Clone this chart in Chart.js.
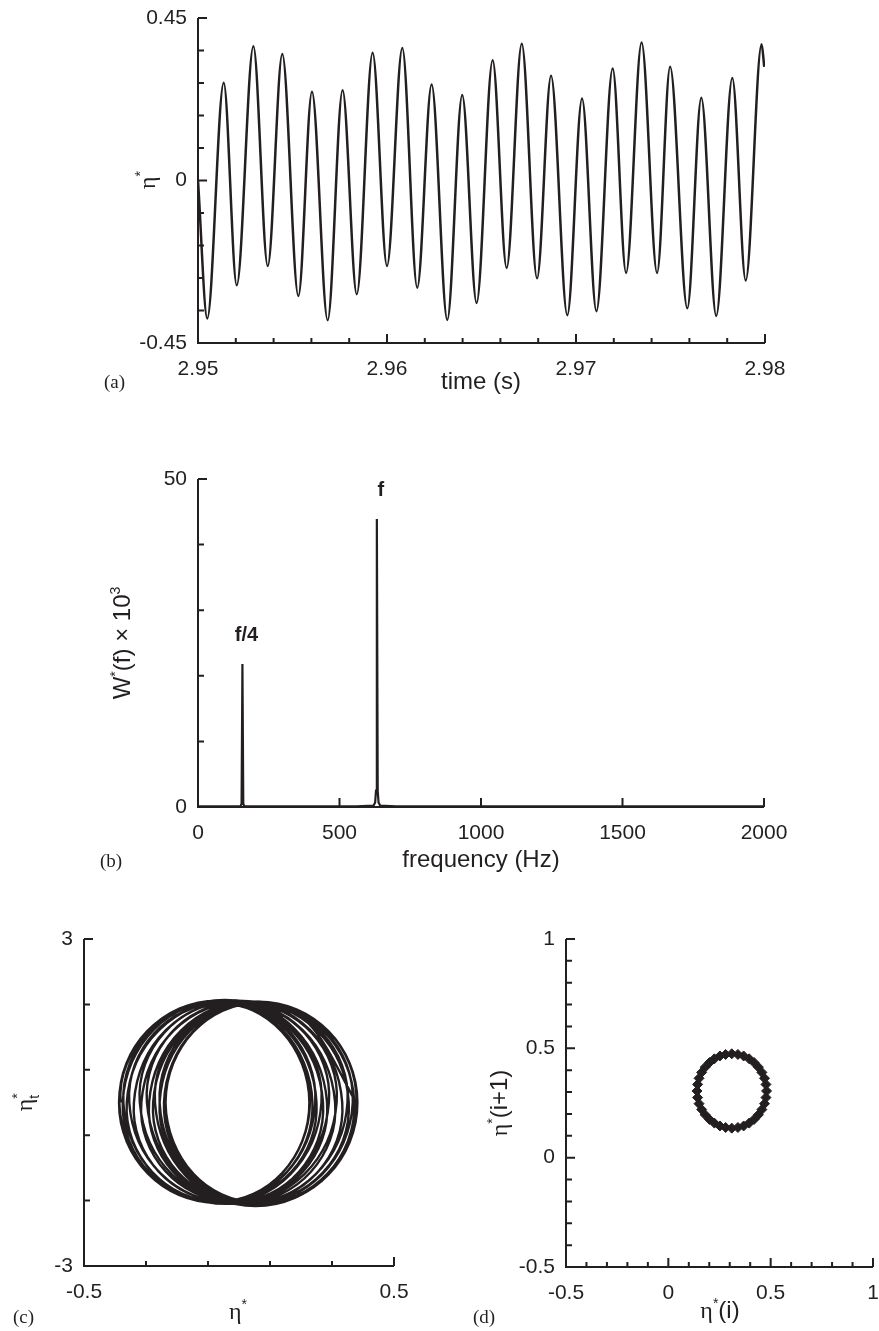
<!DOCTYPE html>
<html>
<head>
<meta charset="utf-8">
<title>Surface elevation, spectrum, phase portrait and return map</title>
<script src="https://cdn.jsdelivr.net/npm/chart.js@4.4.1/dist/chart.umd.min.js"></script>
<style>
  html, body { margin: 0; padding: 0; background: #fff; }
  #wrap { position: relative; width: 879px; height: 1331px; }
  #wrap canvas { position: absolute; left: 0; top: 0; }
</style>
</head>
<body>
<div id="wrap">
  <canvas id="chartA" width="879" height="1331"></canvas>
  <canvas id="chartB" width="879" height="1331"></canvas>
  <canvas id="chartC" width="879" height="1331"></canvas>
  <canvas id="chartD" width="879" height="1331"></canvas>
</div>
<script>
// (a) elevation signal: start, then alternating troughs and crests
const timeS = [2.95000, 2.95049, 2.95136, 2.95205, 2.95293, 2.95369, 2.95446, 2.95531, 2.95603, 2.95686,
               2.95765, 2.95840, 2.95924, 2.96000, 2.96081, 2.96160, 2.96236, 2.96319, 2.96398, 2.96474,
               2.96559, 2.96633, 2.96713, 2.96794, 2.96868, 2.96954, 2.97032, 2.97108, 2.97194, 2.97265,
               2.97347, 2.97429, 2.97498, 2.97589, 2.97663, 2.97742, 2.97827, 2.97898, 2.97982, 2.97996];
const eta = [0.000, -0.382, 0.271, -0.290, 0.372, -0.237, 0.350, -0.320, 0.246, -0.387,
             0.250, -0.315, 0.354, -0.237, 0.367, -0.297, 0.266, -0.386, 0.237, -0.339,
             0.333, -0.242, 0.379, -0.271, 0.290, -0.373, 0.227, -0.362, 0.310, -0.256,
             0.382, -0.256, 0.315, -0.354, 0.229, -0.375, 0.284, -0.277, 0.377, 0.315];

// (b) power spectrum, W*(f) x 10^3
const specFreq  = [0, 60, 120, 150, 154, 157, 160, 164, 250, 400, 560, 620, 626, 629, 632, 635, 638, 644, 700, 900, 1300, 1700, 2000];
const specPower = [0.1, 0.1, 0.1, 0.1, 0.5, 21.8, 0.5, 0.1, 0.1, 0.1, 0.1, 0.2, 0.7, 2.5, 43.9, 2.5, 0.7, 0.2, 0.1, 0.1, 0.1, 0.1, 0.1];
const peakFreqs = [157, 632];
const peakNames = ['f/4', 'f'];

// (c) phase trajectory (eta*, eta*_t): trough -> upper crossing -> crest -> lower crossing
const phaseEta = [0.000,
  -0.382, -0.056, 0.271, -0.010,
  -0.290, 0.041, 0.372, 0.068,
  -0.237, 0.057, 0.350, 0.015,
  -0.320, -0.037, 0.246, -0.071,
  -0.387, -0.069, 0.250, -0.033,
  -0.315, 0.020, 0.354, 0.059,
  -0.237, 0.065, 0.367, 0.035,
  -0.297, -0.016, 0.266, -0.060,
  -0.386, -0.075, 0.237, -0.051,
  -0.339, -0.003, 0.333, 0.046,
  -0.242, 0.069, 0.379, 0.054,
  -0.271, 0.010, 0.290, -0.042,
  -0.373, -0.073, 0.227, -0.068,
  -0.362, -0.026, 0.310, 0.027,
  -0.256, 0.063, 0.382, 0.063,
  -0.256, 0.030, 0.315, -0.020,
  -0.354, -0.063, 0.229, -0.073,
  -0.375, -0.046, 0.284, 0.004,
  -0.277, 0.050, 0.377,
  0.315];
const phaseRate = [-1.85,
  0, 1.86, 0, -1.82,
  0, 1.85, 0, -1.86,
  0, 1.82, 0, -1.85,
  0, 1.83, 0, -1.84,
  0, 1.87, 0, -1.80,
  0, 1.85, 0, -1.83,
  0, 1.83, 0, -1.87,
  0, 1.82, 0, -1.85,
  0, 1.86, 0, -1.81,
  0, 1.87, 0, -1.83,
  0, 1.84, 0, -1.90,
  0, 1.81, 0, -1.86,
  0, 1.84, 0, -1.82,
  0, 1.86, 0, -1.82,
  0, 1.85, 0, -1.88,
  0, 1.81, 0, -1.84,
  0, 1.82, 0, -1.83,
  0, 1.88, 0, -1.81,
  0, 1.85, 0,
  -0.95];

// (d) return map eta*(i) -> eta*(i+1)
const mapEtaI  = [0.480, 0.477, 0.470, 0.457, 0.440, 0.419, 0.395, 0.368, 0.340, 0.310, 0.280, 0.252,
                  0.225, 0.201, 0.180, 0.163, 0.150, 0.143, 0.140, 0.143, 0.150, 0.163, 0.180, 0.201,
                  0.225, 0.252, 0.280, 0.310, 0.340, 0.368, 0.395, 0.419, 0.440, 0.457, 0.470, 0.477];
const mapEtaI1 = [0.305, 0.335, 0.363, 0.390, 0.414, 0.435, 0.452, 0.465, 0.472, 0.475, 0.472, 0.465,
                  0.452, 0.435, 0.414, 0.390, 0.363, 0.335, 0.305, 0.275, 0.247, 0.220, 0.196, 0.175,
                  0.158, 0.145, 0.138, 0.135, 0.138, 0.145, 0.158, 0.175, 0.196, 0.220, 0.247, 0.275];

// labelled ticks
const timeTicks = [2.95, 2.96, 2.97, 2.98];
const etaTicks = [-0.45, 0, 0.45];
const freqTicks = [0, 500, 1000, 1500, 2000];
const powerTicks = [0, 50];
const phaseEtaTicks = [-0.5, 0.5];
const phaseRateTicks = [-3, 3];
const mapTicks = [-0.5, 0, 0.5, 1];

const INK = '#231f20';
const SANS = '"Liberation Sans", Arial, Helvetica, sans-serif';
const SERIF = '"Liberation Serif", "Times New Roman", serif';
const W = 879, H = 1331;
const TITLE = 24;

Chart.defaults.font.family = SANS;
Chart.defaults.color = INK;

// text with super/subscripts; parts are [text, mode, serif]
function drawRich(ctx, t) {
  const size = t.size || TITLE;
  const small = Math.round(size * 0.6);
  const fontFor = p => (t.bold ? 'bold ' : '') + (p[1] === 'n' ? size : small) + 'px ' + (p[2] ? SERIF : SANS);
  let width = 0;
  t.parts.forEach(p => {
    ctx.font = fontFor(p);
    if (p[1] !== 'supx') width += ctx.measureText(p[0]).width;
  });
  ctx.save();
  ctx.translate(t.x, t.y);
  if (t.rot) ctx.rotate(-Math.PI / 2);
  ctx.fillStyle = INK;
  ctx.textBaseline = 'alphabetic';
  ctx.textAlign = 'left';
  let cx = t.align === 'left' ? 0 : -width / 2;
  const base = size * 0.35;
  t.parts.forEach(p => {
    ctx.font = fontFor(p);
    let dy = 0;
    if (p[1] === 'sup' || p[1] === 'supx') dy = -size * 0.42;
    if (p[1] === 'sub') dy = size * 0.28;
    ctx.fillText(p[0], cx, base + dy);
    if (p[1] !== 'supx') cx += ctx.measureText(p[0]).width;
  });
  ctx.restore();
}

function tickMarks(ax) {
  const out = [];
  const n = Math.round((ax.max - ax.min) / ax.step);
  for (let i = 0; i <= n; i++) {
    const v = ax.min + i * ax.step;
    out.push([v, ax.labels.some(l => Math.abs(l - v) < ax.step / 10)]);
  }
  return out;
}

// left/bottom axis lines with inward tick marks, plus free text
function framePlugin(xAx, yAx, texts) {
  return {
    id: 'frame',
    afterDraw(chart) {
      const {ctx, chartArea: a, scales} = chart;
      ctx.save();
      ctx.strokeStyle = INK;
      ctx.lineWidth = 2;
      ctx.beginPath();
      ctx.moveTo(a.left, a.top);
      ctx.lineTo(a.left, a.bottom);
      ctx.lineTo(a.right, a.bottom);
      tickMarks(xAx).forEach(([v, major]) => {
        const p = scales.x.getPixelForValue(v);
        ctx.moveTo(p, a.bottom);
        ctx.lineTo(p, a.bottom - (major ? 9 : 5));
      });
      tickMarks(yAx).forEach(([v, major]) => {
        const p = scales.y.getPixelForValue(v);
        ctx.moveTo(a.left, p);
        ctx.lineTo(a.left + (major ? 9 : 6), p);
      });
      ctx.stroke();
      ctx.restore();
      (typeof texts === 'function' ? texts(chart) : texts).forEach(t => drawRich(ctx, t));
    }
  };
}

function axisCfg(ax, pos, size) {
  return {
    type: 'linear',
    position: pos,
    min: ax.min,
    max: ax.max,
    grid: {display: false},
    border: {display: false},
    afterBuildTicks: s => { s.ticks = ax.labels.map(v => ({value: v})); },
    afterFit: s => {
      if (pos === 'left') s.width = size; else s.height = size;
      s.paddingLeft = s.paddingRight = s.paddingTop = s.paddingBottom = 0;
    },
    ticks: {
      color: INK,
      font: {size: 21, family: SANS},
      padding: pos === 'left' ? 3 : 6,
      maxRotation: 0,
      autoSkip: false,
      callback: v => String(v)
    }
  };
}

function panel(id, box, type, xAx, yAx, datasets, texts) {
  return new Chart(document.getElementById(id), {
    type: type,
    data: {datasets: datasets},
    options: {
      responsive: false,
      animation: false,
      events: [],
      layout: {padding: {left: 0, top: box.top, right: W - box.right, bottom: 0}},
      plugins: {legend: {display: false}, tooltip: {enabled: false}},
      scales: {
        x: axisCfg(xAx, 'bottom', H - box.bottom),
        y: axisCfg(yAx, 'left', box.left)
      }
    },
    plugins: [framePlugin(xAx, yAx, texts)]
  });
}

const pts = (xs, ys) => xs.map((x, i) => ({x: x, y: ys[i]}));

// (a) time trace
panel('chartA', {left: 198, right: 765, top: 18, bottom: 343}, 'line',
  {min: 2.95, max: 2.98, step: 0.002, labels: timeTicks},
  {min: -0.45, max: 0.45, step: 0.09, labels: etaTicks},
  [{data: pts(timeS, eta), borderColor: INK, borderWidth: 2.5, pointRadius: 0, cubicInterpolationMode: 'monotone'}],
  [
    {parts: [['time (s)', 'n']], x: 481, y: 381},
    {parts: [['η', 'n', 1], ['*', 'sup']], x: 147, y: 180, rot: 1},
    {parts: [['(a)', 'n', 1]], x: 104, y: 381, size: 19, align: 'left'}
  ]);

// (b) spectrum
panel('chartB', {left: 198, right: 764, top: 479, bottom: 807}, 'line',
  {min: 0, max: 2000, step: 500, labels: freqTicks},
  {min: 0, max: 50, step: 10, labels: powerTicks},
  [{data: pts(specFreq, specPower), borderColor: INK, borderWidth: 2.2, pointRadius: 0, tension: 0}],
  chart => {
    const out = [
      {parts: [['frequency (Hz)', 'n']], x: 481, y: 859},
      {parts: [['W', 'n'], ['*', 'sup'], ['(f) × 10', 'n'], ['3', 'sup']], x: 122, y: 643, rot: 1},
      {parts: [['(b)', 'n', 1]], x: 100, y: 860, size: 19, align: 'left'}
    ];
    peakFreqs.forEach((f, i) => {
      const p = specPower[specFreq.indexOf(f)];
      out.push({parts: [[peakNames[i], 'n']], bold: true, size: 20,
        x: chart.scales.x.getPixelForValue(f) + 4, y: chart.scales.y.getPixelForValue(p) - 30});
    });
    return out;
  });

// (c) phase portrait; the open first and last pieces of the trace are left undrawn
const lastSeg = phaseEta.length - 2;
panel('chartC', {left: 84, right: 394, top: 939, bottom: 1266}, 'scatter',
  {min: -0.5, max: 0.5, step: 0.2, labels: phaseEtaTicks},
  {min: -3, max: 3, step: 1.2, labels: phaseRateTicks},
  [{
    data: pts(phaseEta, phaseRate), showLine: true, borderColor: INK, borderWidth: 2.4, pointRadius: 0, tension: 0.55,
    segment: {borderColor: c => (c.p0DataIndex === 0 || c.p0DataIndex === lastSeg) ? 'rgba(0,0,0,0)' : undefined}
  }],
  [
    {parts: [['η', 'n', 1], ['*', 'sup']], x: 238, y: 1311},
    {parts: [['η', 'n', 1], ['*', 'supx'], ['t', 'sub']], x: 24, y: 1103, rot: 1},
    {parts: [['(c)', 'n', 1]], x: 13, y: 1316, size: 19, align: 'left'}
  ]);

// (d) return map
panel('chartD', {left: 566, right: 876, top: 939, bottom: 1267}, 'scatter',
  {min: -0.5, max: 1, step: 0.1, labels: mapTicks},
  {min: -0.5, max: 1, step: 0.1, labels: mapTicks},
  [{data: pts(mapEtaI, mapEtaI1), pointStyle: 'rectRot', pointRadius: 5, backgroundColor: INK, borderColor: INK, borderWidth: 1}],
  [
    {parts: [['η', 'n', 1], ['*', 'sup'], ['(i)', 'n']], x: 720, y: 1310},
    {parts: [['η', 'n', 1], ['*', 'sup'], ['(i+1)', 'n']], x: 499, y: 1103, rot: 1},
    {parts: [['(d)', 'n', 1]], x: 473, y: 1316, size: 19, align: 'left'}
  ]);
</script>
</body>
</html>
